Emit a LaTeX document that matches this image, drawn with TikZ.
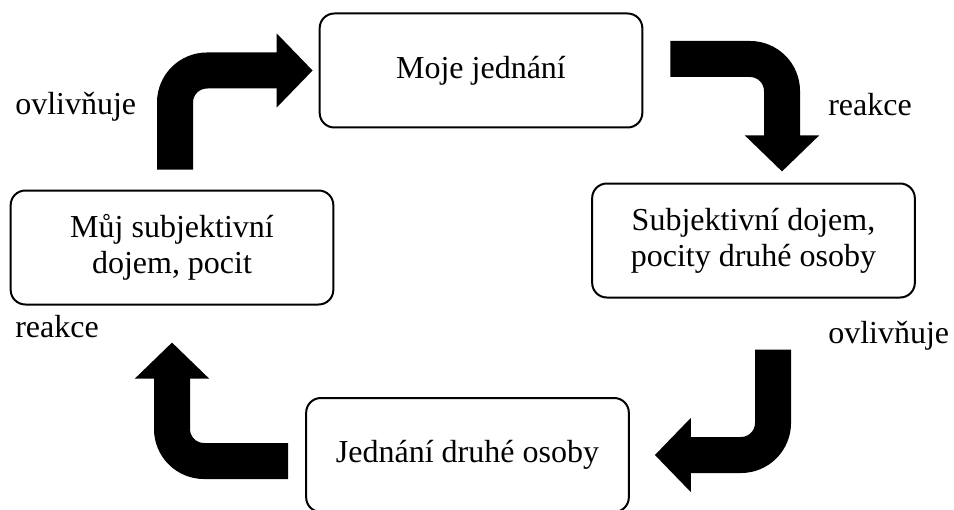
\documentclass[tikz,border=0pt]{standalone}
\usepackage{fontspec}
\setmainfont{Liberation Serif}
\usetikzlibrary{positioning,
        arrows.meta,
        calc}

\tikzset{
    box/.style={draw, line width=1.5pt, rounded corners=11pt,
        minimum width=242pt, minimum height=85.5pt,
        align=center, font=\fontsize{24}{27}\selectfont},
    lbl/.style={anchor=base west, inner sep=0pt, font=\fontsize{24}{27}\selectfont},
    bigarrow/.style={line width=27pt, rounded corners=24pt,
        -{Triangle[length=27pt, width=54pt]}}
}

\begin{document}
\begin{tikzpicture}[x=0.75pt, y=-0.75pt]
        \clip (0,0) rectangle (954,510);

        \node [box] (moje) at (481,70.5) {Moje jednání};
        \node [box] (druha) at (753.5,240.5) {Subjektivní dojem,\\pocity druhé osoby};
        \node [box] (jednani) at (467.5,455) {Jednání druhé osoby};
        \node [box] (muj) at (172,247.5) {Můj subjektivní\\dojem, pocit};

        \node [lbl] (ovl1) at (15,115) {ovlivňuje};
        \node [lbl] (rea1) at (828,116) {reakce};
        \node [lbl] (ovl2) at (828,343) {ovlivňuje};
        \node [lbl] (rea2) at (15,337) {reakce};

        \draw [bigarrow] ($(muj.north)+(3,-20)$) |- ($(moje.west)+(-6,0)$);
        \draw [bigarrow] ($(moje.east)+(27,-11.5)$) -| ($(druha.north)+(28.5,-11)$);
        \draw [bigarrow] ($(druha.south)+(19.5,51)$) |- ($(jednani.east)+(25,0)$);
        \draw [bigarrow] ($(jednani.west)+(-17,6)$) -| ($(muj.south)+(0,37)$);
    \end{tikzpicture}
\end{document}
